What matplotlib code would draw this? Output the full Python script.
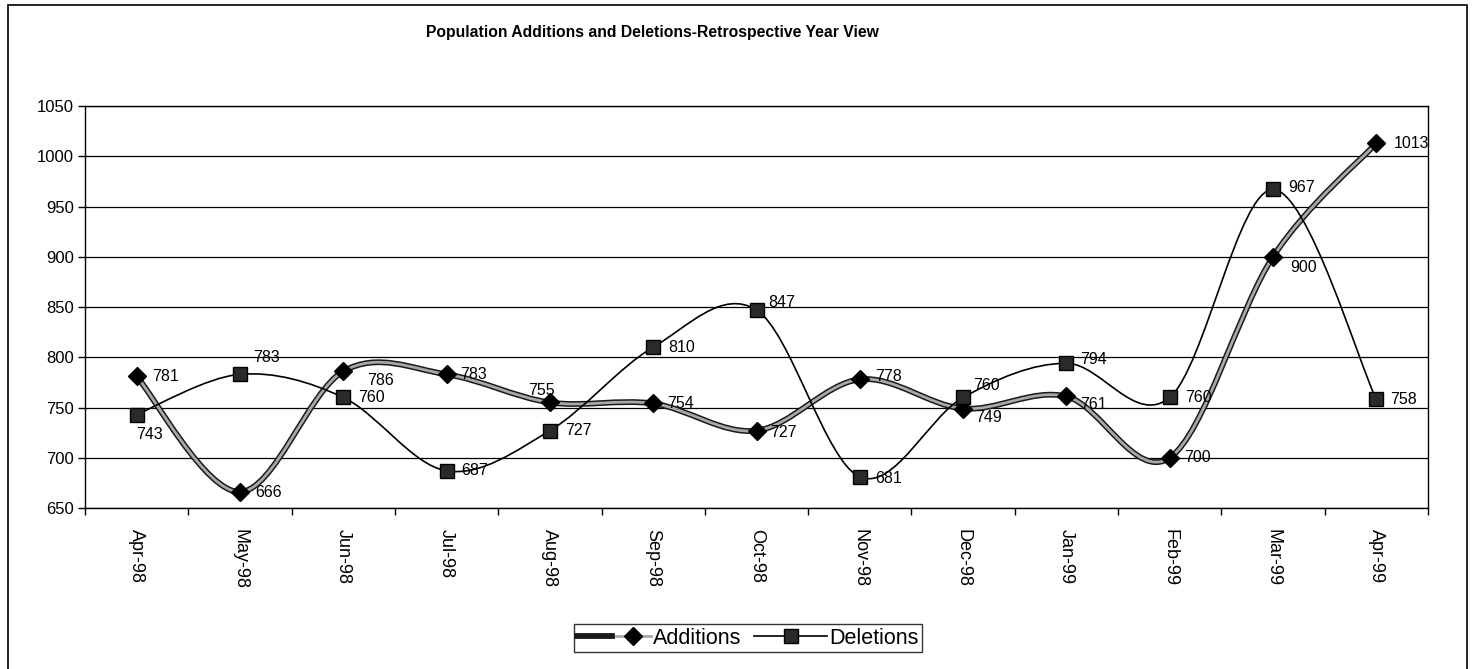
import numpy as np
import matplotlib
matplotlib.use("Agg")
import matplotlib.pyplot as plt
from matplotlib.path import Path
from matplotlib.patches import PathPatch, Rectangle
from matplotlib.lines import Line2D
from matplotlib.legend_handler import HandlerTuple

plt.rcParams["font.family"] = ["Liberation Sans", "DejaVu Sans"]

################### data ######################
months = ["Apr-98", "May-98", "Jun-98", "Jul-98", "Aug-98", "Sep-98", "Oct-98",
          "Nov-98", "Dec-98", "Jan-99", "Feb-99", "Mar-99", "Apr-99"]
additions = [781, 666, 786, 783, 755, 754, 727, 778, 749, 761, 700, 900, 1013]
deletions = [743, 783, 760, 687, 727, 810, 847, 681, 760, 794, 760, 967, 758]

# data label offsets in pixels (dx, dy, ha)
add_offsets = [(15, 0, "left"), (15, -1, "left"), (24, -9, "left"), (14, 0, "left"),
               (-8, 12, "center"), (14, 0, "left"), (14, -2, "left"), (15, 3, "left"),
               (12, -9, "left"), (14, -8, "left"), (14, 0, "left"), (17, -11, "left"),
               (17, 0, "left")]
del_offsets = [(13, -20, "center"), (27, 17, "center"), (15, 0, "left"), (15, 0, "left"),
               (15, 0, "left"), (15, 0, "left"), (12, 8, "left"), (15, -2, "left"),
               (10, 12, "left"), (14, 4, "left"), (15, 0, "left"), (15, 2, "left"),
               (14, 0, "left")]

################### config ######################
W, H = 1475, 669
ax_left, ax_right, ax_top, ax_bottom = 85, 1428, 106, 508
label_fs = 11.5


def smooth_path(xs, ys):
    # Excel-like smoothed line: cubic bezier, catmull-rom tangents
    pts = np.column_stack([xs, ys]).astype(float)
    n = len(pts)
    verts = [pts[0]]
    codes = [Path.MOVETO]
    for i in range(n - 1):
        p0 = pts[max(i - 1, 0)]
        p1 = pts[i]
        p2 = pts[i + 1]
        p3 = pts[min(i + 2, n - 1)]
        verts += [p1 + (p2 - p0) / 6.0, p2 - (p3 - p1) / 6.0, p2]
        codes += [Path.CURVE4] * 3
    return Path(verts, codes)


fig = plt.figure(figsize=(W / 100, H / 100), dpi=100)
ax = fig.add_axes([ax_left / W, 1 - ax_bottom / H,
                   (ax_right - ax_left) / W, (ax_bottom - ax_top) / H])

x = np.arange(len(months))

# outer chart frame
fig.patches.append(Rectangle((8 / W, -0.01), (1467 - 8) / W, 1.01 - 5 / H,
                             transform=fig.transFigure, fill=False,
                             edgecolor="black", linewidth=1.2))

# Additions: thick grey line with dark edges
p_add = smooth_path(x, additions)
ax.add_patch(PathPatch(p_add, fill=False, edgecolor="#1a1a1a", linewidth=4.2,
                       zorder=3, capstyle="round"))
ax.add_patch(PathPatch(p_add, fill=False, edgecolor="#a8a8a8", linewidth=2.0,
                       zorder=3.1, capstyle="round"))
ax.plot(x, additions, linestyle="none", marker="D", markersize=9,
        markerfacecolor="black", markeredgecolor="black", zorder=5)

# Deletions: thin black line, dark squares
p_del = smooth_path(x, deletions)
ax.add_patch(PathPatch(p_del, fill=False, edgecolor="black", linewidth=1.2, zorder=4))
ax.plot(x, deletions, linestyle="none", marker="s", markersize=10.5,
        markerfacecolor="#2a2a2a", markeredgecolor="black", markeredgewidth=1.0,
        zorder=6)

for i, v in enumerate(additions):
    dx, dy, ha = add_offsets[i]
    ax.annotate(str(v), (x[i], v), xytext=(dx, dy), textcoords="offset pixels",
                ha=ha, va="center", fontsize=label_fs, zorder=7)
for i, v in enumerate(deletions):
    dx, dy, ha = del_offsets[i]
    ax.annotate(str(v), (x[i], v), xytext=(dx, dy), textcoords="offset pixels",
                ha=ha, va="center", fontsize=label_fs, zorder=7)

# axes
ax.set_xlim(-0.5, len(months) - 0.5)
ax.set_ylim(650, 1050)
ax.set_yticks(np.arange(650, 1051, 50))
ax.yaxis.grid(True, color="black", linewidth=0.9)
ax.set_axisbelow(True)
ax.tick_params(axis="y", labelsize=12, length=5, width=1, direction="out", pad=3)

ax.set_xticks(np.arange(len(months) + 1) - 0.5)
ax.set_xticklabels([])
ax.set_xticks(x, minor=True)
ax.set_xticklabels(months, minor=True, rotation=-90, fontsize=13, va="top", ha="center")
ax.tick_params(axis="x", which="major", length=5, width=1, direction="out")
ax.tick_params(axis="x", which="minor", length=0, pad=15)

for s in ax.spines.values():
    s.set_color("black")
    s.set_linewidth(1.0)

# title
fig.text(652 / W, 1 - 33 / H,
         "Population Additions and Deletions-Retrospective Year View",
         ha="center", va="center", fontsize=11.3, fontweight="bold")

# legend
h_add = (Line2D([], [], color="#1a1a1a", linewidth=4.2),
         Line2D([], [], color="#a8a8a8", linewidth=2.0, marker="D", markersize=9,
                markerfacecolor="black", markeredgecolor="black"))
h_del = Line2D([], [], color="black", linewidth=1.2, marker="s", markersize=10.5,
               markerfacecolor="#2a2a2a", markeredgecolor="black")
leg = fig.legend([h_add, h_del], ["Additions", "Deletions"],
                 handler_map={tuple: HandlerTuple(ndivide=None)},
                 loc="center", bbox_to_anchor=(748 / W, 1 - 638 / H),
                 ncol=2, fontsize=15.5, frameon=True, fancybox=False,
                 handlelength=3.4, handletextpad=0.1, columnspacing=0.6,
                 borderpad=0.15, borderaxespad=0)
leg.get_frame().set_edgecolor("black")
leg.get_frame().set_linewidth(1.0)

fig.savefig("out.png", dpi=100)
